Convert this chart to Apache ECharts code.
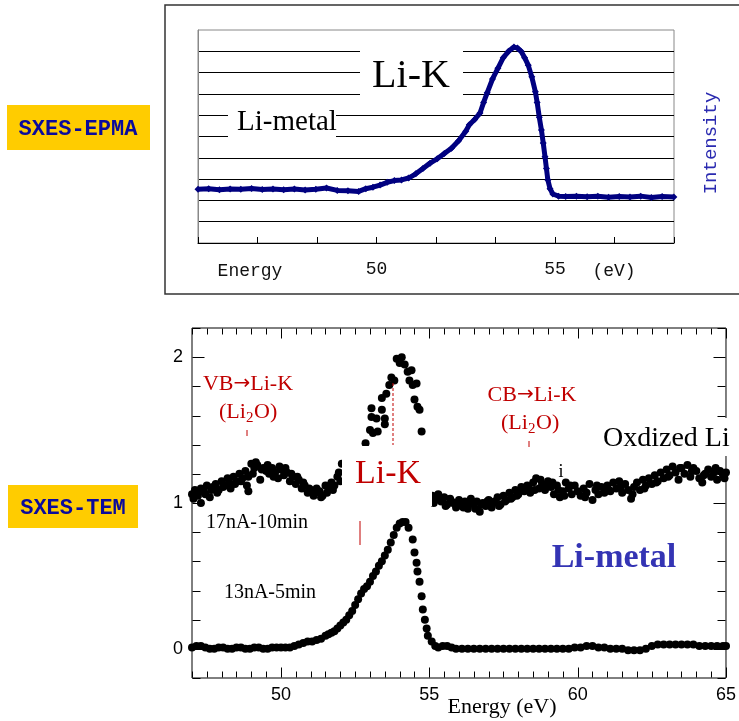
<!DOCTYPE html>
<html>
<head>
<meta charset="utf-8">
<script src="https://cdn.jsdelivr.net/npm/echarts@6/dist/echarts.min.js"></script>
<style>
  html, body { margin: 0; padding: 0; background: #fff; }
  #chart { width: 739px; height: 721px; }
</style>
</head>
<body>
<div id="chart"></div>
<script>
// ---- data ----
// SXES-EPMA Li-K spectrum: [energy eV, intensity (grid units 0-10)]
const epmaSpectrum = [
  [45.0, 2.52], [45.3, 2.55], [45.6, 2.5], [45.9, 2.53], [46.2, 2.52], [46.5, 2.56],
  [46.8, 2.51], [47.1, 2.54], [47.4, 2.5], [47.7, 2.53], [48.0, 2.49], [48.3, 2.52],
  [48.6, 2.58], [48.9, 2.47], [49.2, 2.45], [49.5, 2.42], [49.7, 2.55], [49.9, 2.62],
  [50.1, 2.72], [50.3, 2.85], [50.5, 2.93], [50.7, 2.96], [50.9, 3.05], [51.1, 3.25],
  [51.3, 3.5], [51.5, 3.75], [51.7, 3.95], [51.9, 4.2], [52.1, 4.45], [52.3, 4.8],
  [52.5, 5.25], [52.6, 5.55], [52.75, 5.8], [52.9, 6.1], [53.0, 6.6], [53.1, 7.05],
  [53.25, 7.7], [53.4, 8.2], [53.55, 8.7], [53.7, 9.0], [53.85, 9.2], [53.95, 9.15],
  [54.05, 9.0], [54.15, 8.7], [54.25, 8.35], [54.35, 7.8], [54.45, 7.1], [54.5, 6.6],
  [54.56, 5.9], [54.62, 5.3], [54.67, 4.7], [54.72, 4.05], [54.76, 3.5], [54.8, 2.96],
  [54.86, 2.55], [54.94, 2.3], [55.1, 2.2], [55.3, 2.18], [55.6, 2.2], [55.9, 2.17],
  [56.2, 2.19], [56.5, 2.15], [56.8, 2.18], [57.1, 2.16], [57.4, 2.2], [57.7, 2.14],
  [58.0, 2.18], [58.33, 2.16]
];
const epmaTickLabels = [50, 55];

// SXES-TEM Li-metal (13nA-5min)
const temMetal = [
  [47.0, 0.01], [47.15, 0.02], [47.3, 0.02], [47.45, 0.01], [47.6, 0.0], [47.75, 0.0],
  [47.9, 0.01], [48.05, 0.01], [48.2, 0.0], [48.35, 0.0], [48.5, 0.01], [48.65, 0.01],
  [48.8, 0.0], [48.95, 0.0], [49.1, 0.01], [49.25, 0.01], [49.4, 0.0], [49.55, 0.0],
  [49.7, 0.01], [49.85, 0.01], [50.0, 0.01], [50.15, 0.01], [50.3, 0.01], [50.45, 0.02],
  [50.6, 0.03], [50.75, 0.04], [50.9, 0.05], [51.05, 0.05], [51.2, 0.06], [51.35, 0.07],
  [51.5, 0.09], [51.6, 0.1], [51.7, 0.11], [51.8, 0.12], [51.9, 0.14], [52.0, 0.16],
  [52.1, 0.18], [52.2, 0.2], [52.3, 0.23], [52.4, 0.26], [52.5, 0.3], [52.6, 0.34],
  [52.7, 0.38], [52.8, 0.41], [52.9, 0.43], [53.0, 0.46], [53.1, 0.5], [53.2, 0.53],
  [53.3, 0.57], [53.4, 0.6], [53.5, 0.64], [53.6, 0.68], [53.7, 0.73], [53.8, 0.78],
  [53.9, 0.83], [54.0, 0.86], [54.1, 0.87], [54.2, 0.87], [54.3, 0.83], [54.44, 0.75],
  [54.5, 0.66], [54.57, 0.59], [54.6, 0.53], [54.67, 0.46], [54.74, 0.36], [54.78, 0.27],
  [54.85, 0.2], [54.91, 0.14], [54.95, 0.09], [55.08, 0.05], [55.2, 0.02], [55.3, 0.01],
  [55.45, 0.02], [55.6, 0.02], [55.75, 0.01], [55.9, 0.0], [56.1, 0.0], [56.3, 0.0],
  [56.5, 0.0], [56.7, 0.0], [56.9, 0.0], [57.1, 0.0], [57.3, 0.0], [57.5, 0.0],
  [57.7, 0.0], [57.9, 0.0], [58.1, 0.0], [58.3, 0.0], [58.5, 0.0], [58.7, 0.0],
  [58.9, 0.0], [59.1, 0.0], [59.3, 0.0], [59.5, 0.0], [59.7, 0.0], [59.9, 0.01],
  [60.1, 0.01], [60.3, 0.02], [60.5, 0.02], [60.7, 0.01], [60.9, 0.01], [61.1, 0.0],
  [61.3, 0.0], [61.5, 0.0], [61.7, -0.01], [61.9, -0.01], [62.1, -0.01], [62.3, 0.0],
  [62.5, 0.02], [62.7, 0.03], [62.9, 0.03], [63.1, 0.03], [63.3, 0.03], [63.5, 0.03],
  [63.7, 0.03], [63.9, 0.03], [64.1, 0.02], [64.3, 0.02], [64.5, 0.02], [64.7, 0.02],
  [64.9, 0.02], [65.0, 0.02]
];

// SXES-TEM oxidized Li (17nA-10min), left part
const temOxLow = [
  [47.0, 1.06], [47.1, 1.09], [47.2, 1.05], [47.3, 1.10], [47.4, 1.08], [47.5, 1.12],
  [47.6, 1.04], [47.7, 1.11], [47.8, 1.13], [47.9, 1.09], [48.0, 1.15], [48.1, 1.12],
  [48.2, 1.17], [48.3, 1.10], [48.4, 1.18], [48.5, 1.15], [48.6, 1.20], [48.7, 1.17],
  [48.8, 1.22], [48.9, 1.18], [49.0, 1.27], [49.1, 1.24], [49.2, 1.26], [49.3, 1.16],
  [49.4, 1.24], [49.5, 1.22], [49.6, 1.20], [49.7, 1.24], [49.8, 1.21], [49.9, 1.17],
  [50.0, 1.23], [50.1, 1.19], [50.2, 1.21], [50.3, 1.15], [50.4, 1.18], [50.5, 1.13],
  [50.6, 1.16], [50.7, 1.10], [50.8, 1.12], [50.9, 1.07], [51.0, 1.09], [51.1, 1.05],
  [51.2, 1.10], [51.3, 1.08], [51.4, 1.05], [51.5, 1.12], [51.6, 1.10], [51.7, 1.14],
  [51.8, 1.12], [51.9, 1.18], [52.0, 1.15], [52.05, 1.27],
  [47.05, 1.03], [47.25, 1.08], [47.45, 1.06], [47.65, 1.09], [47.85, 1.07], [48.05, 1.11],
  [48.25, 1.14], [48.45, 1.13], [48.65, 1.15], [48.85, 1.12], [49.05, 1.20], [49.15, 1.28],
  [49.35, 1.23], [49.55, 1.26], [49.75, 1.18], [49.95, 1.25], [50.15, 1.24], [50.35, 1.20],
  [50.55, 1.18], [50.75, 1.14], [50.95, 1.10], [51.15, 1.07], [51.35, 1.04], [51.55, 1.07],
  [51.75, 1.09], [51.95, 1.21], [47.3, 1.00], [48.9, 1.08]
];
// oxidized Li, the peak above the "Li-K" label
const temOxPeak = [
  [52.85, 1.41], [53.0, 1.5], [53.1, 1.48], [53.26, 1.49], [53.05, 1.59], [53.22, 1.58],
  [53.5, 1.58], [53.5, 1.54], [53.05, 1.65], [53.4, 1.64], [53.4, 1.72], [53.55, 1.75],
  [53.65, 1.81], [53.82, 1.84], [53.72, 1.86], [53.9, 1.99], [54.07, 2.0], [54.0, 1.96],
  [54.17, 1.95], [54.27, 1.9], [54.4, 1.91], [54.33, 1.84], [54.44, 1.81], [54.57, 1.82],
  [54.5, 1.71], [54.6, 1.66], [54.67, 1.64], [54.74, 1.49]
];
// oxidized Li, right part
const temOxHigh = [
  [55.1, 1.05], [55.2, 1.02], [55.3, 1.06], [55.4, 1.01], [55.5, 1.04], [55.6, 0.99],
  [55.7, 1.03], [55.8, 1.00], [55.9, 0.97], [56.0, 1.02], [56.1, 0.98], [56.2, 1.01],
  [56.3, 0.96], [56.4, 1.03], [56.5, 0.99], [56.6, 1.01], [56.7, 0.94], [56.8, 1.00],
  [56.9, 0.98], [57.0, 1.02], [57.1, 0.97], [57.2, 1.01], [57.3, 1.04], [57.4, 0.99],
  [57.5, 1.05], [57.6, 1.02], [57.7, 1.07], [57.8, 1.04], [57.9, 1.09], [58.0, 1.06],
  [58.1, 1.11], [58.2, 1.08], [58.3, 1.12], [58.4, 1.07], [58.5, 1.14], [58.6, 1.17],
  [58.7, 1.10], [58.8, 1.13], [58.9, 1.09], [59.0, 1.15], [59.1, 1.11], [59.2, 1.06],
  [59.3, 1.12], [59.4, 1.04], [59.5, 1.08], [59.6, 1.14], [59.7, 1.10], [59.8, 1.06],
  [59.9, 1.12], [60.0, 1.08], [60.1, 1.05], [60.2, 1.10], [60.3, 1.07], [60.4, 1.13],
  [60.5, 1.02], [60.6, 1.09], [60.7, 1.06], [60.8, 1.11], [60.9, 1.07], [61.0, 1.12],
  [61.1, 1.08], [61.2, 1.14], [61.3, 1.10], [61.4, 1.15], [61.5, 1.07], [61.6, 1.13],
  [61.7, 1.09], [61.8, 1.03], [61.9, 1.11], [62.0, 1.14], [62.1, 1.09], [62.2, 1.16],
  [62.3, 1.12], [62.4, 1.17], [62.5, 1.13], [62.6, 1.19], [62.7, 1.15], [62.8, 1.21],
  [62.9, 1.17], [63.0, 1.23], [63.1, 1.19], [63.2, 1.25], [63.3, 1.21], [63.4, 1.16],
  [63.5, 1.24], [63.6, 1.20], [63.7, 1.26], [63.8, 1.18], [63.9, 1.24], [64.0, 1.22],
  [64.1, 1.17], [64.2, 1.14], [64.3, 1.20], [64.4, 1.23], [64.5, 1.18], [64.6, 1.21],
  [64.7, 1.16], [64.8, 1.22], [64.9, 1.19], [65.0, 1.21],
  [55.15, 1.00], [55.35, 1.03], [55.55, 0.98], [55.75, 1.01], [55.95, 1.00], [56.15, 0.97],
  [56.35, 1.00], [56.55, 0.96], [56.75, 0.99], [56.95, 1.01], [57.15, 1.00], [57.35, 0.98],
  [57.55, 1.01], [57.75, 1.03], [57.95, 1.05], [58.15, 1.09], [58.35, 1.10], [58.55, 1.09],
  [58.75, 1.16], [58.95, 1.12], [59.15, 1.14], [59.35, 1.09], [59.55, 1.05], [59.75, 1.12],
  [60.25, 1.04], [60.65, 1.12], [61.05, 1.09], [61.45, 1.11], [61.85, 1.06], [62.25, 1.10],
  [62.65, 1.14], [63.05, 1.18], [63.45, 1.24], [63.85, 1.22], [64.25, 1.19], [64.65, 1.24],
  [64.95, 1.17]
];
const temXLabels = [50, 55, 60, 65];
const temYLabels = [0, 1, 2];

const SERIF = '"Liberation Serif", "Times New Roman", serif';
const MONO = '"Liberation Mono", "Courier New", monospace';
const SANS = '"Liberation Sans", Arial, sans-serif';
const RED = '#c00000';

function txt(x, y, text, font, fill, extra) {
  return Object.assign({
    type: 'text', x: x, y: y, z: 100,
    style: { text: text, font: font, fill: fill, align: 'center', verticalAlign: 'middle' }
  }, extra || {});
}
function box(x, y, w, h, fill) {
  return { type: 'rect', z: 90, shape: { x: x, y: y, width: w, height: h }, style: { fill: fill } };
}
function vline(x, y1, y2, dashed) {
  return {
    type: 'line', z: 100, shape: { x1: x, y1: y1, x2: x, y2: y2 },
    style: { stroke: RED, lineWidth: 1, lineDash: dashed ? [3, 2] : null }
  };
}
// "VB→Li-K" style label, arrow drawn in DejaVu so it is full size
function arrowLabel(cx, cy, left, right) {
  return {
    type: 'text', x: cx, y: cy, z: 100,
    style: {
      text: '{a|' + left + '}{r|\u2192}{a|' + right + '}', align: 'center', verticalAlign: 'middle',
      rich: {
        a: { font: '22px ' + SERIF, fill: RED },
        r: { font: '20px "DejaVu Sans", sans-serif', fill: RED }
      }
    }
  };
}
// "(Li2O)" with a lowered subscript
function li2o(cx, cy) {
  const f = '22px ' + SERIF;
  const x0 = cx - 29;
  return {
    type: 'group', z: 100, children: [
      { type: 'text', x: x0, y: cy, style: { text: '(Li', font: f, fill: RED, align: 'left', verticalAlign: 'middle' } },
      { type: 'text', x: x0 + 27, y: cy + 6, style: { text: '2', font: '15px ' + SERIF, fill: RED, align: 'left', verticalAlign: 'middle' } },
      { type: 'text', x: x0 + 35, y: cy, style: { text: 'O)', font: f, fill: RED, align: 'left', verticalAlign: 'middle' } }
    ]
  };
}

const annotations = [
  // top panel frame and labels
  { type: 'rect', z: 50, shape: { x: 165, y: 5, width: 600, height: 289 },
    style: { fill: 'none', stroke: '#333', lineWidth: 1.5 } },
  box(360, 46, 103, 56, '#fff'),
  txt(411, 76, 'Li-K', '40px ' + SERIF, '#000'),
  box(228, 104, 108, 36, '#fff'),
  txt(287, 122, 'Li-metal', '29px ' + SERIF, '#000'),
  txt(250, 271, 'Energy', '18px ' + MONO, '#111'),
  txt(614, 271, '(eV)', '18px ' + MONO, '#111'),
  txt(711, 143, 'Intensity', '19px ' + MONO, '#2a2ab0', { rotation: Math.PI / 2 }),

  // method tags
  box(7, 105, 143, 45, '#ffcc00'),
  txt(78, 129, 'SXES-EPMA', 'bold 22px ' + MONO, '#0a0a9c'),
  box(8, 485, 130, 43, '#ffcc00'),
  txt(73, 508, 'SXES-TEM', 'bold 22px ' + MONO, '#0a0a9c'),

  // bottom panel annotations
  arrowLabel(248, 384, 'VB', 'Li-K'),
  li2o(248, 412),
  vline(247, 430, 436, false),
  arrowLabel(532, 395, 'CB', 'Li-K'),
  li2o(530, 423),
  vline(529, 441, 447, false),
  vline(393, 383, 445, true),
  box(342, 446, 90, 60, '#fff'),
  txt(388, 474, 'Li-K', '34px ' + SERIF, RED),
  vline(360, 521, 545, false),
  box(600, 418, 139, 38, '#fff'),
  { type: 'text', x: 603, y: 439, z: 100,
    style: { text: 'Oxdized Li', font: '28px ' + SERIF, fill: '#000', align: 'left', verticalAlign: 'middle' } },
  txt(561, 472, 'i', '18px ' + SERIF, '#000'),
  txt(257, 523, '17nA-10min', '20px ' + SERIF, '#000'),
  txt(270, 593, '13nA-5min', '20px ' + SERIF, '#000'),
  txt(614, 558, 'Li-metal', 'bold 34px ' + SERIF, '#3434b4'),
  txt(502, 707, 'Energy (eV)', '22px ' + SERIF, '#000')
];

const chart = echarts.init(document.getElementById('chart'));
chart.setOption({
  animation: false,
  backgroundColor: '#fff',
  grid: [
    { left: 198, top: 30, width: 476, height: 213, show: true, borderColor: '#888', borderWidth: 1 },
    { left: 192, top: 328, width: 535, height: 350, show: true, borderColor: '#000', borderWidth: 1 }
  ],
  xAxis: [
    {
      gridIndex: 0, type: 'value', min: 45, max: 45 + 8 * 5 / 3, interval: 5 / 3,
      axisLine: { show: true, onZero: false, lineStyle: { color: '#000' } },
      axisTick: { show: true, inside: true, length: 6, lineStyle: { color: '#000' } },
      axisLabel: { show: true, customValues: epmaTickLabels, margin: 17, color: '#111', fontFamily: MONO, fontSize: 18 },
      splitLine: { show: false }
    },
    {
      gridIndex: 1, type: 'value', position: 'bottom', min: 47, max: 65, interval: 0.5,
      axisLine: { show: false, onZero: false },
      axisTick: { show: false },
      axisLabel: { show: true, margin: 8, color: '#000', fontFamily: SANS, fontSize: 18,
                   formatter: v => (temXLabels.indexOf(Math.round(v * 10) / 10) >= 0 ? String(v) : '') },
      splitLine: { show: false }
    }
  ],
  yAxis: [
    {
      gridIndex: 0, type: 'value', min: 0, max: 10, interval: 1,
      axisLine: { show: true, onZero: false, lineStyle: { color: '#888' } },
      axisTick: { show: false },
      axisLabel: { show: false },
      splitLine: { show: true, showMaxLine: false, lineStyle: { color: '#000', width: 1 } }
    },
    {
      gridIndex: 1, type: 'value', position: 'left', min: -0.2, max: 2.2, interval: 0.2,
      axisLine: { show: false, onZero: false },
      axisTick: { show: false },
      axisLabel: { show: true, margin: 9, color: '#000', fontFamily: SANS, fontSize: 18,
                   formatter: v => { const r = Math.round(v * 10) / 10; return temYLabels.indexOf(r) >= 0 ? String(r) : ''; } },
      splitLine: { show: false }
    }
  ],
  series: [
    {
      name: 'EPMA Li-metal', type: 'line', xAxisIndex: 0, yAxisIndex: 0,
      data: epmaSpectrum, symbol: 'diamond', symbolSize: 7,
      itemStyle: { color: '#000080' }, lineStyle: { color: '#000080', width: 5 }
    },
    {
      name: 'TEM Li-metal', type: 'scatter', xAxisIndex: 1, yAxisIndex: 1,
      data: temMetal, symbol: 'circle', symbolSize: 8, itemStyle: { color: '#000', opacity: 1 }
    },
    {
      name: 'TEM oxidized Li', type: 'scatter', xAxisIndex: 1, yAxisIndex: 1,
      data: temOxLow.concat(temOxPeak, temOxHigh), symbol: 'circle', symbolSize: 8,
      itemStyle: { color: '#000', opacity: 1 }
    }
  ]
});

// inward ticks on all four sides of the TEM frame, placed through the axes' own scales
function axisTickValues(type) {
  try {
    const axis = chart.getModel().getComponent(type, 1).axis;
    return axis.scale.getTicks().map(t => (typeof t === 'number' ? t : t.value));
  } catch (e) {
    return [];
  }
}
const tickMarks = [];
try {
  const xPix = v => chart.convertToPixel({ xAxisIndex: 1 }, v);
  const yPix = v => chart.convertToPixel({ yAxisIndex: 1 }, v);
  const left = Math.round(xPix(47)) + 0.5, right = Math.round(xPix(65)) - 0.5;
  const top = Math.round(yPix(2.2)) + 0.5, bottom = Math.round(yPix(-0.2)) - 0.5;
  const seg = (x1, y1, x2, y2) => ({ type: 'line', z: 5, silent: true,
    shape: { x1: x1, y1: y1, x2: x2, y2: y2 }, style: { stroke: '#000', lineWidth: 1 } });
  axisTickValues('xAxis').forEach(v => {
    const px = Math.round(xPix(v)) + 0.5;
    const len = Math.abs(v / 5 - Math.round(v / 5)) < 1e-6 ? 10 : 6;
    tickMarks.push(seg(px, bottom, px, bottom - len), seg(px, top, px, top + len));
  });
  axisTickValues('yAxis').forEach(v => {
    const py = Math.round(yPix(v)) + 0.5;
    const len = Math.abs(v - Math.round(v)) < 1e-6 ? 12 : 8;
    tickMarks.push(seg(left, py, left + len, py), seg(right, py, right - len, py));
  });
} catch (e) { /* ticks are decoration only */ }

chart.setOption({ graphic: annotations.concat(tickMarks) });
</script>
</body>
</html>
